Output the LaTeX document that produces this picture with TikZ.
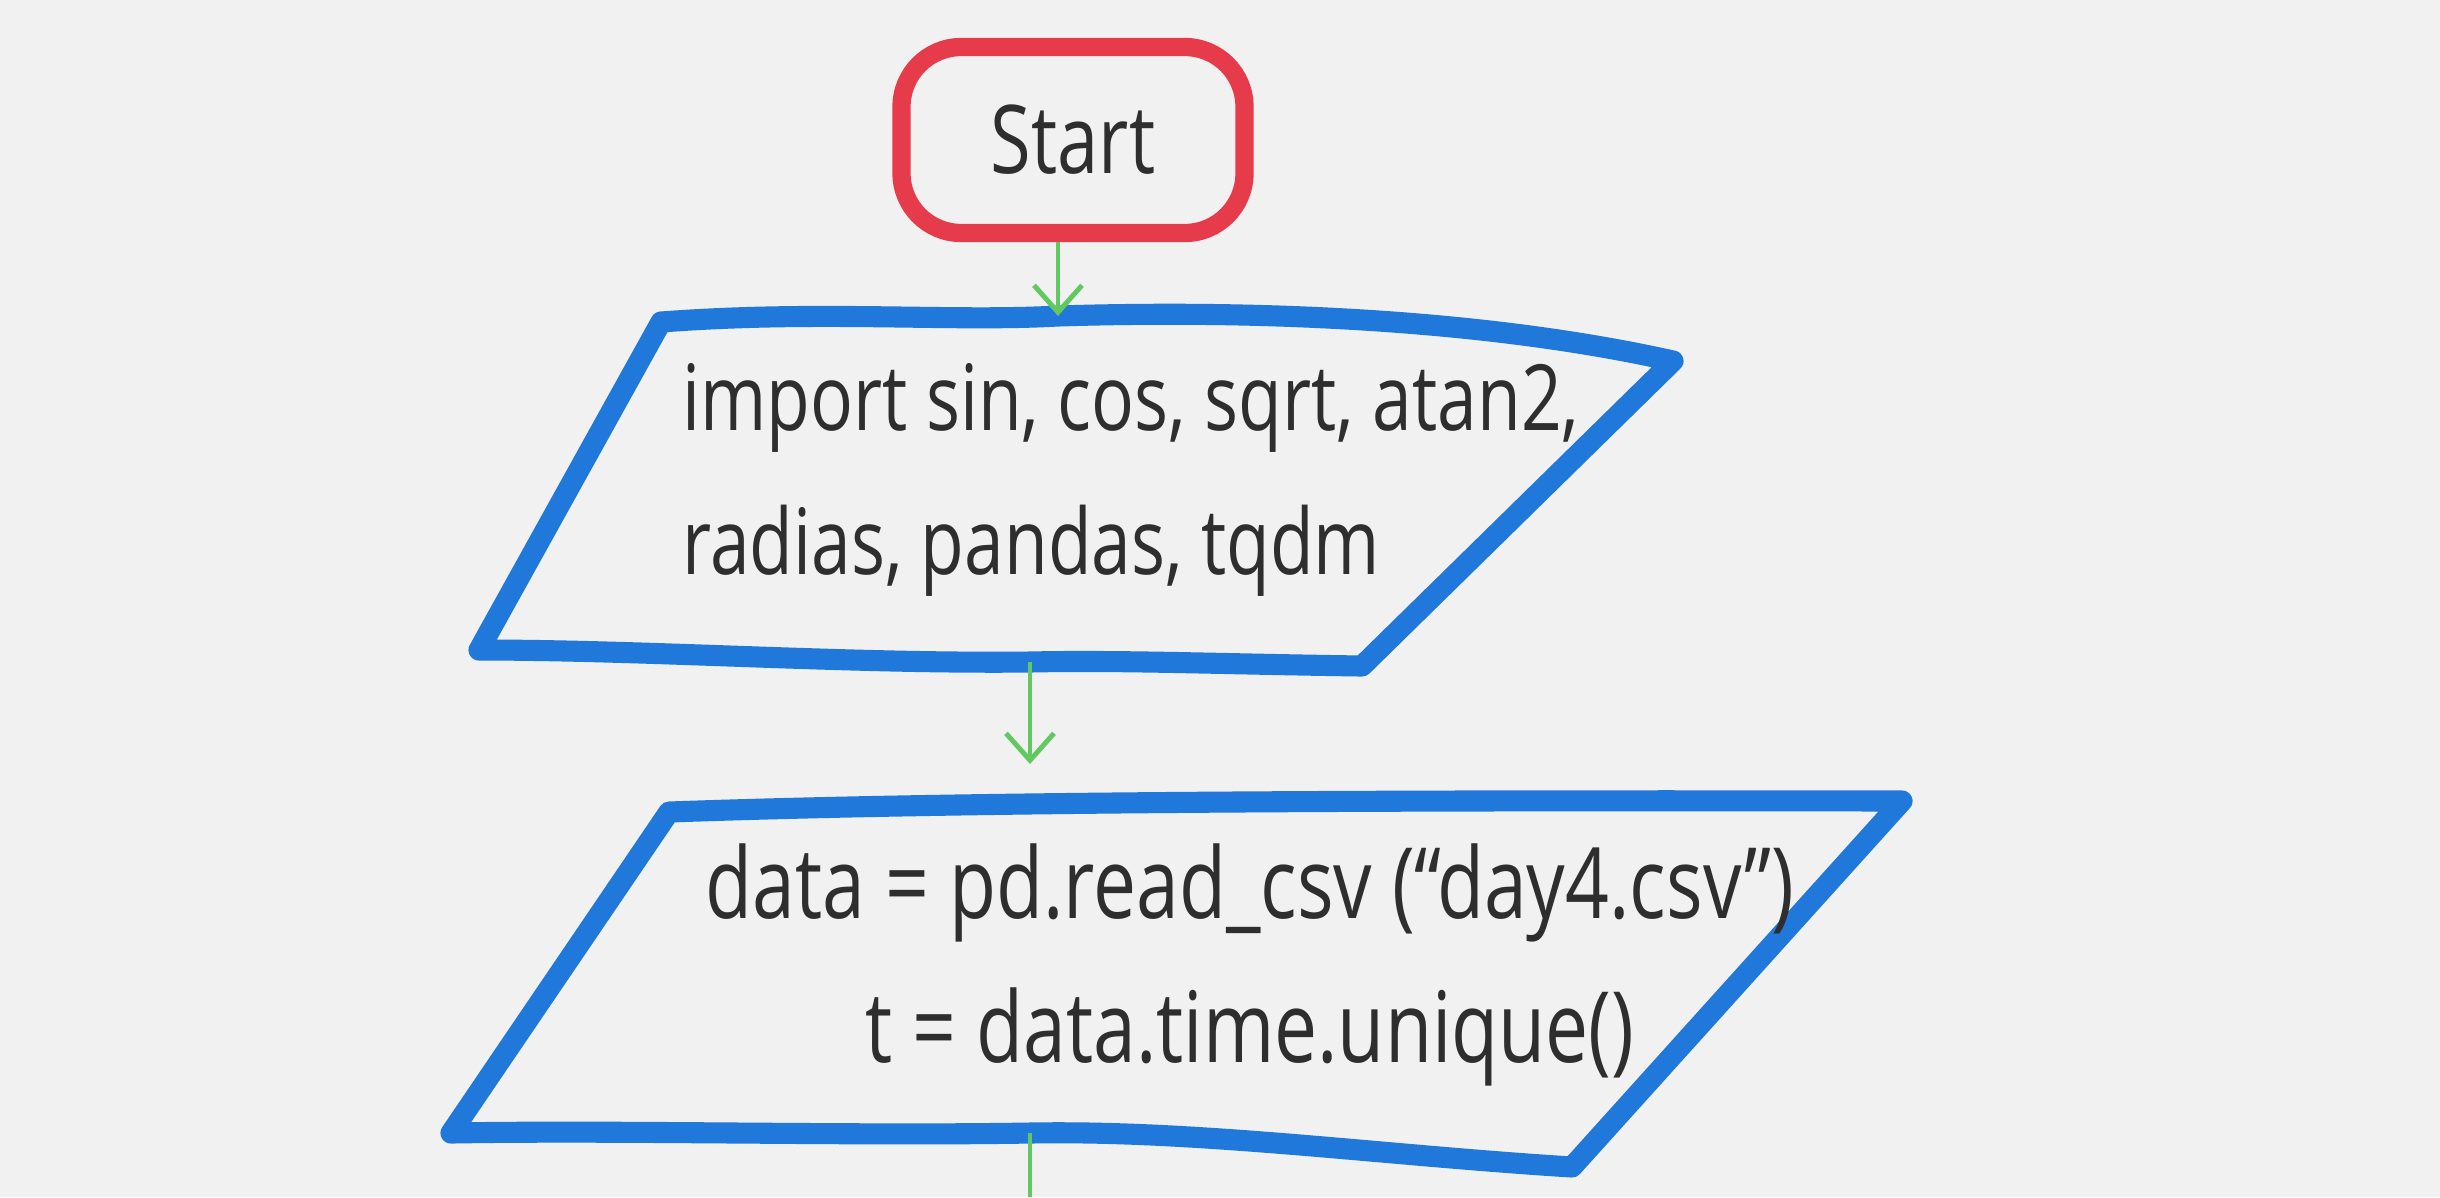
\documentclass[tikz,border=0pt]{standalone}
\usepackage{fontspec}
\setmainfont{Open Sans}[FakeStretch=0.78]
\usetikzlibrary{arrows.meta}
\definecolor{paper}{HTML}{F1F1F1}
\definecolor{startred}{HTML}{E63B4B}
\definecolor{ioblue}{HTML}{1F78DA}
\definecolor{flowgreen}{HTML}{62C962}
\definecolor{ink}{HTML}{2E2E2E}
\tikzset{
	terminal/.style={draw=startred,line width=5.2pt,rounded corners=17pt,minimum width=3.43cm,minimum height=1.86cm,text=ink,font=\fontsize{27}{30}\selectfont},
	iobox/.style={draw=ioblue,line width=6pt,line join=round,line cap=round},
	iotext/.style={text=ink,font=\fontsize{26}{41}\selectfont},
	flow/.style={draw=flowgreen,line width=1.4pt,-{Straight Barb[length=2.7mm,width=4.8mm]}},
	flowline/.style={draw=flowgreen,line width=1.4pt}
}

\begin{document}
\begin{tikzpicture}[x=1cm,y=-1cm]
		\fill[paper] (0,0) rectangle (24.4,11.97);
		\useasboundingbox (0,0) rectangle (24.4,11.97);
		\node[terminal] (start) at (10.73,1.40) {Start};
		
		\coordinate (in1) at (10.58,3.16);
		\coordinate (out1) at (10.30,6.62);
		\coordinate (in2) at (10.30,7.64);
		\coordinate (out2) at (10.30,11.33);
		\coordinate (down) at (10.30,11.97);
		
		\draw[iobox] (6.61,3.22) .. controls (8.2,3.10) and (9.5,3.22) .. (in1) .. controls (12.5,3.10) and (14.8,3.18) .. (16.73,3.61) -- (13.62,6.66) .. controls (12.2,6.64) and (11.2,6.60) .. (out1) .. controls (8.5,6.64) and (6.5,6.50) .. (4.79,6.50) -- cycle;
		\node[iotext,align=left,anchor=west] (imports) at (6.70,4.80) {import sin, cos, sqrt, atan2,\\radias, pandas, tqdm};
		
		\draw[iobox] (6.69,8.12) .. controls (9.5,8.02) and (13.5,8.00) .. (19.02,8.01) -- (15.72,11.67) .. controls (13.8,11.55) and (12.0,11.30) .. (out2) .. controls (8.5,11.36) and (6.2,11.30) .. (4.51,11.33) -- cycle;
		\node[iotext,align=center,font=\fontsize{28}{41}\selectfont] (readdata) at (12.50,9.65) {data = pd.read\_csv (``day4.csv'')\\t = data.time.unique()};
		
		\draw[flow] (start.south -| in1) -- (in1);
		\draw[flow] (out1) -- (in2);
		\draw[flowline] (out2) -- (down);
\end{tikzpicture}
\end{document}
